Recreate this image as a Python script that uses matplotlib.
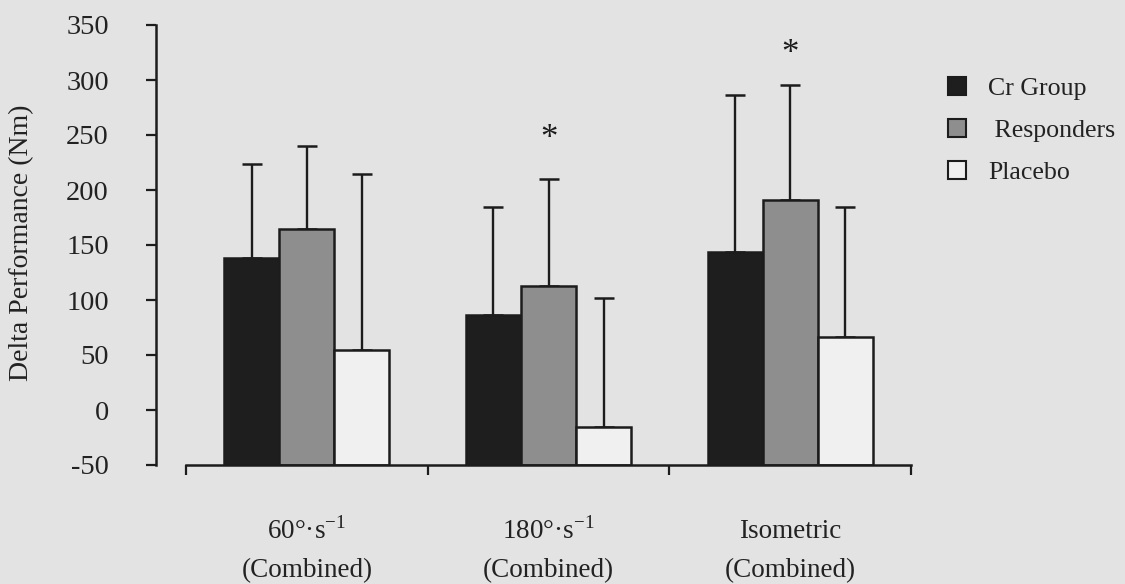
import numpy as np
import matplotlib
matplotlib.use("Agg")
import matplotlib.pyplot as plt
from matplotlib.lines import Line2D

plt.rcParams['font.family'] = ['Liberation Serif', 'DejaVu Serif']
plt.rcParams['mathtext.fontset'] = 'custom'
plt.rcParams['mathtext.rm'] = 'Liberation Serif'
plt.rcParams['axes.unicode_minus'] = False

# data
cat_names = ['60°·s$^{-1}$', '180°·s$^{-1}$', 'Isometric']
cat_sub = ['(Combined)', '(Combined)', '(Combined)']
groups = ['Cr Group', ' Responders', 'Placebo']
cr_mean = [138, 86, 144]
cr_err = [86, 98.5, 142]
resp_mean = [164.5, 113, 191]
resp_err = [75.5, 97, 104.5]
plac_mean = [55, -15.5, 66]
plac_err = [159.5, 117.5, 118.5]
star_pos = [(1, 246), (2, 323)]   # (category, y) of the * marks

bg = '#e3e3e3'
ink = '#1c1c1c'
txt = '#222222'
colors = ['#1e1e1e', '#8e8e8e', '#f0f0f0']

fig = plt.figure(figsize=(11.25, 5.84), dpi=100)
fig.patch.set_facecolor(bg)

ax = fig.add_axes([186 / 1125, 1 - 465 / 584, 725 / 1125, 440 / 584])
ax.set_facecolor('none')

x = np.arange(len(cat_names))
w = 0.228
base = -50
series = [(cr_mean, cr_err), (resp_mean, resp_err), (plac_mean, plac_err)]
for i, (m, e) in enumerate(series):
    m = np.array(m)
    pos = x + (i - 1) * w
    ax.errorbar(pos, m, yerr=[np.zeros_like(m), e], fmt='none', ecolor=ink,
                elinewidth=1.7, capsize=7, capthick=1.8, zorder=1)
    ax.bar(pos, m - base, bottom=base, width=w, color=colors[i],
           edgecolor=ink, linewidth=1.8, zorder=2, label=groups[i])

for c, y in star_pos:
    ax.text(c, y, '*', ha='center', va='center', fontsize=25, color=ink)

ax.set_xlim(-0.5, 2.5)
ax.set_ylim(-50, 350)
ax.set_yticks(np.arange(-50, 351, 50))
ax.set_xticks([-0.5, 0.5, 1.5, 2.5])
ax.set_xticklabels([])
ax.tick_params(axis='x', direction='out', length=7, width=1.6, color=ink)
ax.tick_params(axis='y', direction='out', length=7, width=1.6, color=ink,
               labelsize=20.5, labelcolor=txt, pad=27)

# category labels, two lines each
xt = ax.get_xaxis_transform()
for c in x:
    ax.text(c, -0.150, cat_names[c], transform=xt, ha='center', va='center',
            fontsize=19.5, color=txt)
    ax.text(c, -0.239, cat_sub[c], transform=xt, ha='center', va='center',
            fontsize=19.5, color=txt)

for s in ['top', 'right']:
    ax.spines[s].set_visible(False)
ax.spines['left'].set_position(('outward', 21.6))
for s in ['left', 'bottom']:
    ax.spines[s].set_linewidth(1.8)
    ax.spines[s].set_color(ink)

fig.text(22 / 1125, 1 - 243 / 584, 'Delta Performance (Nm)', rotation=90,
         ha='center', va='center', fontsize=20, color=txt)

handles = [Line2D([], [], marker='s', linestyle='none', markersize=13,
                  markerfacecolor=c, markeredgecolor=ink, markeredgewidth=1.5)
           for c in colors]
fig.legend(handles, groups, loc='upper left', bbox_to_anchor=(944 / 1125, 1 - 77 / 584),
           frameon=False, fontsize=18.6, handlelength=1.0, handletextpad=0.7,
           labelspacing=0.73, borderaxespad=0, borderpad=0, labelcolor=txt)

fig.savefig('out.png', dpi=100, facecolor=bg)
